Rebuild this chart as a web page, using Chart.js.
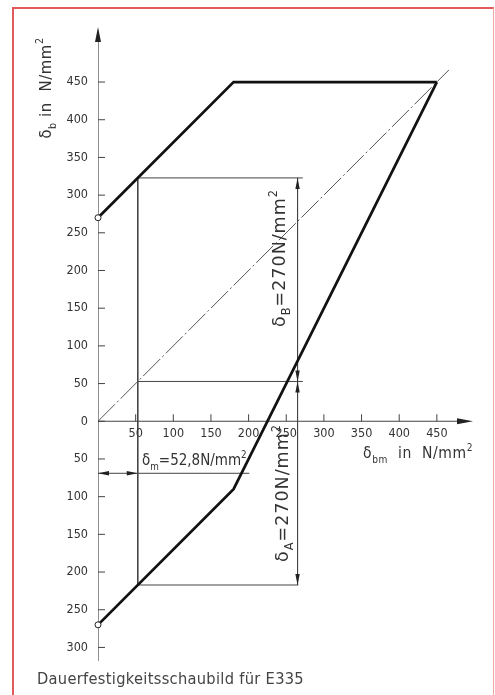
<!DOCTYPE html>
<html>
<head>
<meta charset="utf-8">
<script src="https://cdn.jsdelivr.net/npm/chart.js@4.4.1/dist/chart.umd.min.js"></script>
<style>
  html, body { margin: 0; padding: 0; background: #fff; }
  #frame { position: absolute; left: 12px; top: 7px; width: 479px; height: 700px;
           border-left: 2px solid #e25a5a; border-top: 2px solid #e25a5a; border-right: 1.5px solid #f2a5a5; }
  #wrap { position: absolute; left: 0; top: 0; width: 495px; height: 695px; }
</style>
</head>
<body>
<div id="frame"></div>
<div id="wrap"><canvas id="chart" width="495" height="695"></canvas></div>
<script>
// Smith diagram values (N/mm²)
const upperX = [0, 180, 450];
const upperY = [270, 450, 450];
const lowerX = [0, 180, 450];
const lowerY = [-270, -90, 450];
const diagX = [0, 466];
const diagY = [0, 466];

const sigmaM = 52.8;          // mean stress of the example
const dimX = 265;             // x of the dimension arrows
const helpY = [322.8, 52.8, -217.2];   // upper, mean, lower stress at sigmaM
const leaderY = -69;          // height of the sigma_m dimension line
const leaderEnd = 201;        // where it meets the lower line

const xTicks = [50, 100, 150, 200, 250, 300, 350, 400, 450];
const yTicks = [450, 400, 350, 300, 250, 200, 150, 100, 50, 0, -50, -100, -150, -200, -250, -300];

const FONT = "'DejaVu Sans Condensed', 'Liberation Sans Narrow', 'DejaVu Sans', sans-serif";
const FONT_W = "'DejaVu Sans', sans-serif";
let curFont = FONT;
const fontOf = s => s.toFixed(1) + 'px ' + curFont;

function pts(xs, ys) { return xs.map((v, i) => ({ x: v, y: ys[i] })); }

function line(data, width, color, dash) {
  return { data: data, showLine: true, borderColor: color, borderWidth: width,
           borderDash: dash || [], pointRadius: 0, fill: false, tension: 0 };
}

function richWidth(ctx, segs, size) {
  let w = 0;
  segs.forEach(s => { ctx.font = fontOf(s.sub || s.sup ? size * 0.65 : size); w += ctx.measureText(s.t).width; });
  return w;
}
function drawRich(ctx, segs, x, y, size, align) {
  let cx = align === 'center' ? x - richWidth(ctx, segs, size) / 2 : x;
  ctx.textAlign = 'left';
  ctx.textBaseline = 'alphabetic';
  segs.forEach(s => {
    const fs = s.sub || s.sup ? size * 0.65 : size;
    ctx.font = fontOf(fs);
    const dy = s.sub ? size * 0.3 : s.sup ? -size * 0.45 : 0;
    ctx.fillText(s.t, cx, y + dy);
    cx += ctx.measureText(s.t).width;
  });
}
function drawRotated(ctx, segs, cx, cy, size) {
  ctx.save();
  ctx.translate(cx, cy);
  ctx.rotate(-Math.PI / 2);
  drawRich(ctx, segs, 0, size * 0.35, size, 'center');
  ctx.restore();
}
function arrow(ctx, tx, ty, dx, dy, len, half) {
  const bx = tx - dx * len, by = ty - dy * len;
  ctx.beginPath();
  ctx.moveTo(tx, ty);
  ctx.lineTo(bx - dy * half, by + dx * half);
  ctx.lineTo(bx + dy * half, by - dx * half);
  ctx.closePath();
  ctx.fill();
}

const decor = {
  id: 'decor',
  afterDatasetsDraw(chart) {
    const ctx = chart.ctx;
    const sx = chart.scales.x, sy = chart.scales.y;
    const X = v => sx.getPixelForValue(v), Y = v => sy.getPixelForValue(v);
    ctx.save();

    // tick marks
    ctx.strokeStyle = '#444';
    ctx.lineWidth = 1;
    yTicks.forEach(v => {
      ctx.beginPath(); ctx.moveTo(X(0), Y(v)); ctx.lineTo(X(0) + 7, Y(v)); ctx.stroke();
    });
    xTicks.forEach(v => {
      ctx.beginPath(); ctx.moveTo(X(v), Y(0)); ctx.lineTo(X(v), Y(0) - 7); ctx.stroke();
    });

    // tick labels
    curFont = FONT;
    ctx.fillStyle = '#333';
    ctx.font = fontOf(12.5);
    ctx.textAlign = 'right';
    ctx.textBaseline = 'middle';
    yTicks.forEach(v => ctx.fillText(String(Math.abs(v)), X(0) - 10, Y(v)));
    ctx.textAlign = 'center';
    xTicks.forEach(v => ctx.fillText(String(v), X(v), Y(0) + 12));

    // axis arrows
    ctx.fillStyle = '#222';
    arrow(ctx, X(0), sy.top, 0, -1, 15, 3);
    arrow(ctx, sx.right, Y(0), 1, 0, 16, 3);

    // dimension arrows
    arrow(ctx, X(dimX), Y(helpY[0]), 0, -1, 11, 2.2);
    arrow(ctx, X(dimX), Y(helpY[1]), 0, 1, 11, 2.2);
    arrow(ctx, X(dimX), Y(helpY[1]), 0, -1, 11, 2.2);
    arrow(ctx, X(dimX), Y(helpY[2]), 0, 1, 11, 2.2);
    arrow(ctx, X(0), Y(leaderY), -1, 0, 11, 2.2);
    arrow(ctx, X(sigmaM), Y(leaderY), 1, 0, 11, 2.2);

    // titles and annotations
    ctx.fillStyle = '#333';
    ctx.letterSpacing = '0.6px';
    drawRotated(ctx, [{ t: 'δ' }, { t: 'b', sub: true }, { t: ' in  N/mm' }, { t: '2', sup: true }], 45, 88, 16.5);
    drawRich(ctx, [{ t: 'δ' }, { t: 'bm', sub: true }, { t: '  in  N/mm' }, { t: '2', sup: true }], 363, 458, 15.5, 'left');
    ctx.letterSpacing = '0px';
    drawRich(ctx, [{ t: 'δ' }, { t: 'm', sub: true }, { t: '=52,8N/mm' }, { t: '2', sup: true }], 142, 465, 15, 'left');
    curFont = FONT_W;
    ctx.letterSpacing = '1px';
    drawRotated(ctx, [{ t: 'δ' }, { t: 'B', sub: true }, { t: '=270N/mm' }, { t: '2', sup: true }], 279, 258, 17.5);
    drawRotated(ctx, [{ t: 'δ' }, { t: 'A', sub: true }, { t: '=270N/mm' }, { t: '2', sup: true }], 282, 493, 17.5);
    ctx.letterSpacing = '0.3px';
    curFont = FONT;

    ctx.fillStyle = '#444';
    ctx.font = fontOf(16.3);
    ctx.textAlign = 'left';
    ctx.textBaseline = 'middle';
    ctx.fillText('Dauerfestigkeitsschaubild für E335', 37, 680);
    ctx.restore();
  }
};

const circles = {
  data: [{ x: 0, y: upperY[0] }, { x: 0, y: lowerY[0] }],
  showLine: false, pointRadius: 3, pointBackgroundColor: '#fff',
  pointBorderColor: '#222', pointBorderWidth: 1, clip: false
};

new Chart(document.getElementById('chart'), {
  type: 'scatter',
  data: {
    datasets: [
      circles,
      line(pts(upperX, upperY), 2.7, '#111'),
      line(pts(lowerX, lowerY), 2.7, '#111'),
      line(pts(diagX, diagY), 1, '#555', [24, 3, 2, 3]),
      line([{ x: 0, y: -318 }, { x: 0, y: 510 }], 1.2, '#444'),
      line([{ x: 0, y: 0 }, { x: 485, y: 0 }], 1.2, '#444'),
      line([{ x: sigmaM, y: helpY[0] }, { x: sigmaM, y: helpY[2] }], 1, '#444'),
      line([{ x: sigmaM, y: helpY[0] }, { x: 272, y: helpY[0] }], 1, '#444'),
      line([{ x: sigmaM, y: helpY[1] }, { x: 272, y: helpY[1] }], 1, '#444'),
      line([{ x: sigmaM, y: helpY[2] }, { x: 266, y: helpY[2] }], 1, '#444'),
      line([{ x: dimX, y: helpY[0] }, { x: dimX, y: helpY[2] }], 1, '#444'),
      line([{ x: 0, y: leaderY }, { x: leaderEnd, y: leaderY }], 1, '#444')
    ]
  },
  options: {
    responsive: false,
    animation: false,
    events: [],
    layout: { padding: { left: 98, right: 22, top: 27, bottom: 34 } },
    scales: {
      x: { type: 'linear', min: 0, max: 498, display: false },
      y: { type: 'linear', min: -318, max: 523, display: false }
    },
    plugins: { legend: { display: false }, tooltip: { enabled: false } }
  },
  plugins: [decor]
});
</script>
</body>
</html>
